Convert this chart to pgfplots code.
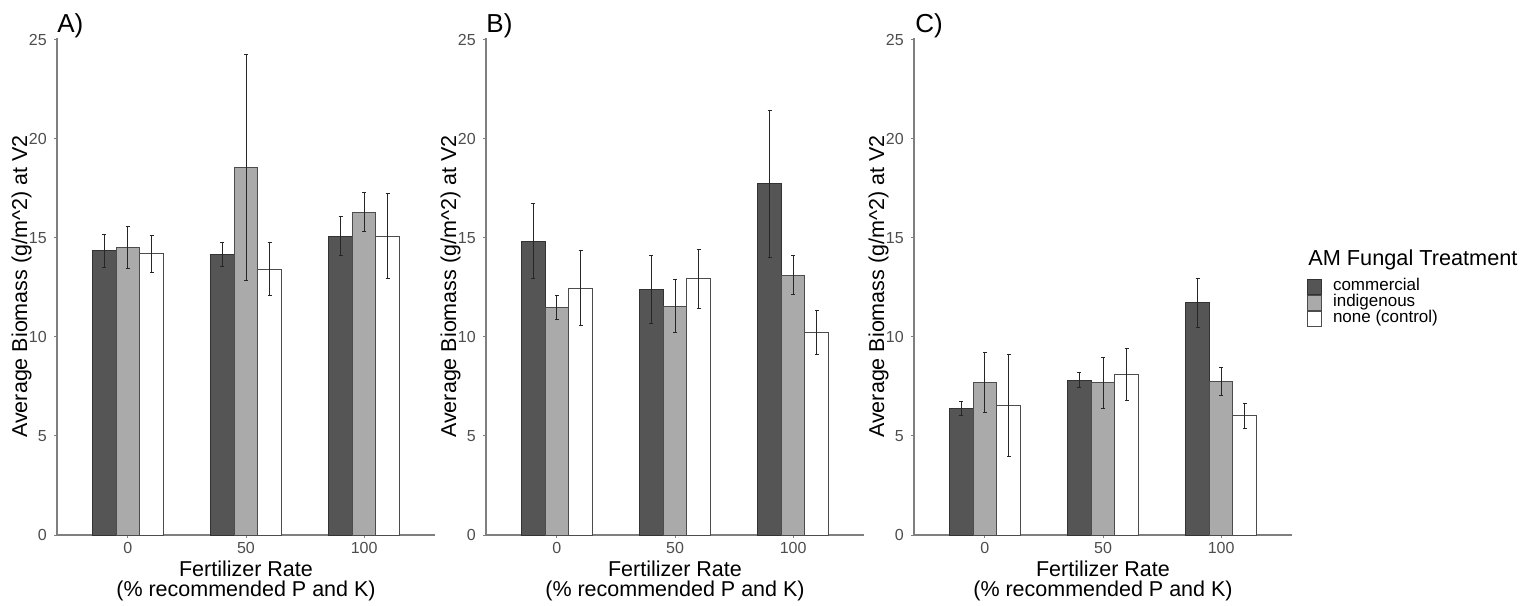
\documentclass[border=0pt]{standalone}
\usepackage{pgfplots}
\pgfplotsset{compat=1.18}
\usepackage{fontspec}
\setmainfont{Liberation Sans}
\definecolor{cdark}{HTML}{555555}
\definecolor{cmid}{HTML}{AAAAAA}
\definecolor{axgray}{HTML}{7F7F7F}
\definecolor{ticktext}{HTML}{4D4D4D}
\pgfplotsset{
  panel/.style={
    scale only axis,
    width=189pt, height=248.5pt,
    xmin=-0.6, xmax=2.6, ymin=0, ymax=25.1,
    axis lines=left,
    axis line style={-, draw=axgray, line width=0.6pt},
    xtick={0,1,2}, xticklabels={0,50,100},
    ytick={0,5,10,15,20,25},
    tick align=outside,
    major tick length=1.6pt,
    tick style={draw=axgray, line width=0.5pt},
    /pgf/number format/assume math mode=true,
    tick label style={font=\fontsize{8}{9.5}\selectfont, text=ticktext},
    xticklabel style={yshift=1.5pt},
    yticklabel style={xshift=0pt},
    every axis x label/.style={at={(axis description cs:0.5,0)}, anchor=north, yshift=-13pt, align=center, inner sep=0pt, font=\fontsize{10.75}{9.8}\selectfont},
    every axis y label/.style={at={(axis description cs:0,0.5)}, rotate=90, anchor=south, yshift=12.5pt, inner sep=0pt, font=\fontsize{10.75}{12}\selectfont},
    xlabel={Fertilizer Rate\\(\% recommended P and K)},
    ylabel={Average Biomass (g/m\textasciicircum 2) at V2},
    ybar, bar width=0.2,
    clip=false,
    error bars/y dir=both, error bars/y explicit,
    error bars/error mark options={rotate=90, mark size=1pt, line width=0.5pt, draw=black!85},
    error bars/error bar style={line width=0.5pt, draw=black!85},
  },
  comm/.style={fill=cdark, draw=black!80, line width=0.5pt, bar shift=-0.2},
  indig/.style={fill=cmid, draw=black!70, line width=0.5pt, bar shift=0},
  nonec/.style={fill=white, draw=black!70, line width=0.5pt, bar shift=0.2},
}
\begin{document}
\begin{tikzpicture}
\useasboundingbox (0,0) rectangle (767.5pt,302.5pt);
% Panel A
\begin{axis}[panel, at={(28.5pt,35pt)}, anchor=south west]
\addplot[comm] coordinates {(0,14.36) +- (0,0.84) (1,14.16) +- (0,0.61) (2,15.10) +- (0,1.00)};
\addplot[indig] coordinates {(0,14.53) +- (0,1.05) (1,18.57) +- (0,5.72) (2,16.31) +- (0,0.97)};
\addplot[nonec] coordinates {(0,14.20) +- (0,0.92) (1,13.42) +- (0,1.33) (2,15.10) +- (0,2.14)};
\end{axis}
% Panel B
\begin{axis}[panel, at={(243pt,35pt)}, anchor=south west]
\addplot[comm] coordinates {(0,14.84) +- (0,1.90) (1,12.38) +- (0,1.72) (2,17.73) +- (0,3.70)};
\addplot[indig] coordinates {(0,11.48) +- (0,0.60) (1,11.56) +- (0,1.35) (2,13.13) +- (0,1.00)};
\addplot[nonec] coordinates {(0,12.46) +- (0,1.90) (1,12.93) +- (0,1.47) (2,10.23) +- (0,1.12)};
\end{axis}
% Panel C
\begin{axis}[panel, at={(457pt,35pt)}, anchor=south west,
  legend style={at={(axis description cs:1.0397,0.515)}, anchor=north west, draw=none, fill=none,
    inner sep=0pt, outer sep=0pt, row sep=0pt,
    font=\fontsize{8.5}{9}\selectfont,
    nodes={inner sep=0pt, text height=5.5pt, text depth=2pt, anchor=west}},
  legend cell align=left,
  legend image code/.code={\draw[#1, line width=0.5pt] (0pt,-3.75pt) rectangle (7pt,3.75pt); \path (12.5pt,0pt);},
]
\addplot[comm] coordinates {(0,6.39) +- (0,0.33) (1,7.81) +- (0,0.38) (2,11.72) +- (0,1.22)};
\addplot[indig] coordinates {(0,7.71) +- (0,1.50) (1,7.68) +- (0,1.27) (2,7.77) +- (0,0.70)};
\addplot[nonec] coordinates {(0,6.54) +- (0,2.57) (1,8.11) +- (0,1.30) (2,6.02) +- (0,0.63)};
\legend{commercial, indigenous, none (control)}
\end{axis}
% Panel labels and legend title
\node[anchor=base west, inner sep=0pt, font=\fontsize{13}{15}\selectfont] at (28.5pt,286pt) {A)};
\node[anchor=base west, inner sep=0pt, font=\fontsize{13}{15}\selectfont] at (243pt,286pt) {B)};
\node[anchor=base west, inner sep=0pt, font=\fontsize{13}{15}\selectfont] at (457.5pt,286pt) {C)};
\node[anchor=base west, inner sep=0pt, font=\fontsize{10.85}{12}\selectfont] at (654pt,169.5pt) {AM Fungal Treatment};
\end{tikzpicture}
\end{document}
